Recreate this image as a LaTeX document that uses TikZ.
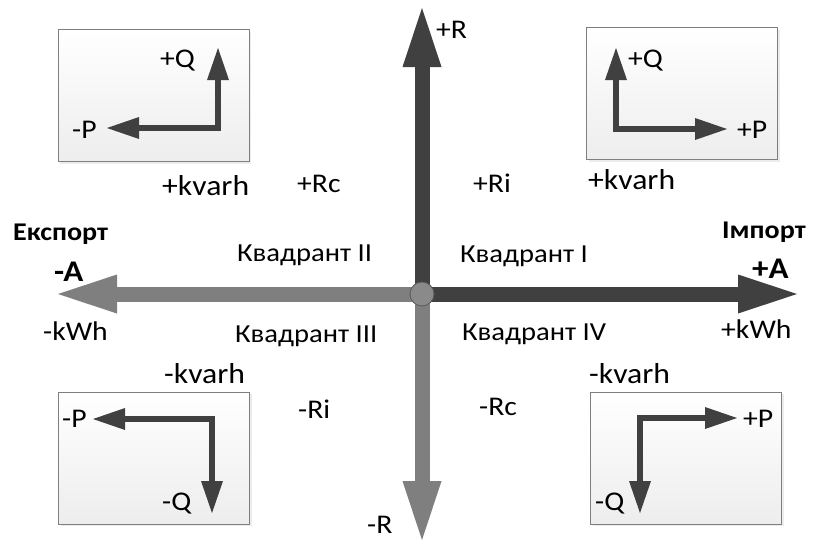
\documentclass[tikz,border=0pt]{standalone}
\usepackage{fontspec}
\setmainfont{Carlito}[FakeStretch=1.1]
\usetikzlibrary{arrows.meta,shadows}
\definecolor{dk}{HTML}{404040}
\definecolor{lt}{HTML}{7F7F7F}
\definecolor{rim}{HTML}{5A5A5A}
\definecolor{dot}{HTML}{8A8A8A}
\begin{document}
\begin{tikzpicture}[x=1pt,y=-1pt,
  lbl/.style={anchor=base west, inner sep=0pt, font=\fontsize{27}{31}\selectfont},
  klbl/.style={anchor=base west, inner sep=0pt, font=\fontsize{28.8}{32}\selectfont},
  qlbl/.style={anchor=base west, inner sep=0pt, font=\fontsize{26}{30}\selectfont},
  blbl/.style={anchor=base west, inner sep=0pt, font=\bfseries\fontsize{25.5}{29}\selectfont},
  alb/.style={anchor=base west, inner sep=0pt, font=\bfseries\fontsize{30}{34}\selectfont},
  panel/.style={draw=lt, line width=1pt, top color=white, bottom color=black!7,
    minimum width=191pt, minimum height=132pt, inner sep=0pt,
    drop shadow={opacity=0.15, shadow xshift=2pt, shadow yshift=-2pt}},
  bigarrow/.style={line width=15pt, -{Triangle[length=59pt,width=39pt,line width=0pt]}},
  smallarrow/.style={draw=dk, line width=6pt, line join=miter,
    {Triangle[length=32pt,width=22pt,line width=0pt]}-{Triangle[length=32pt,width=22pt,line width=0pt]}}
]
\useasboundingbox (0,0) rectangle (814,539);

% panels
\node[panel] (p1) at (153.5,95.5) {};
\node[panel] (p2) at (682,93.5) {};
\node[panel] (p3) at (154,458) {};
\node[panel] (p4) at (686,458) {};

% main axes
\coordinate (tu) at (422,8);
\coordinate (td) at (422,540);
\coordinate (tr) at (797,294);
\coordinate (tl) at (58,294);
\node[circle, minimum size=24pt, inner sep=0pt] (c) at (422,294) {};
\draw[bigarrow, draw=lt, fill=lt] (c.center) -- (tl);
\draw[bigarrow, draw=lt, fill=lt] (c.center) -- (td);
\draw[bigarrow, draw=dk, fill=dk] (c.center) -- (tr);
\draw[bigarrow, draw=dk, fill=dk] (c.center) -- (tu);
\node[circle, minimum size=24pt, inner sep=0pt, fill=dot, draw=rim, line width=0.8pt] (cc) at (c.center) {};

% panel arrows
\coordinate (c1) at (218,128); \coordinate (u1) at (218,48); \coordinate (l1) at (107,128);
\coordinate (c2) at (616,129); \coordinate (u2) at (616,48); \coordinate (r2) at (727,129);
\coordinate (c3) at (212,419); \coordinate (l3) at (93,419); \coordinate (d3) at (212,513);
\coordinate (c4) at (640,418); \coordinate (r4) at (737,418); \coordinate (d4) at (640,513);
\draw[smallarrow] (l1) -- (c1) -- (u1);
\draw[smallarrow] (u2) -- (c2) -- (r2);
\draw[smallarrow] (l3) -- (c3) -- (d3);
\draw[smallarrow] (r4) -- (c4) -- (d4);

% panel labels
\node[lbl] (q1) at (160,67) {+Q};
\node[lbl] (pp1) at (72,138) {-P};
\node[lbl] (q2) at (628,67) {+Q};
\node[lbl] (pp2) at (737,138) {+P};
\node[lbl] (pp3) at (62,427) {-P};
\node[lbl] (q3) at (162,510) {-Q};
\node[lbl] (pp4) at (743,427) {+P};
\node[lbl] (q4) at (595,510) {-Q};

% axis labels
\node[lbl] (rp) at (436,38) {+R};
\node[lbl] (rm) at (367,533) {-R};
\node[blbl] (exp) at (13,240) {Експорт};
\node[alb] (am) at (54,281) {-A};
\node[lbl] (kwm) at (43,340) {-kWh};
\node[blbl] (imp) at (722,238) {Імпорт};
\node[alb] (ap) at (752,278) {+A};
\node[lbl] (kwp) at (721,338) {+kWh};

% quadrant labels
\node[klbl] (kv1) at (162,195) {+kvarh};
\node[lbl] (rc1) at (297,192) {+Rc};
\node[lbl] (ri1) at (473,192) {+Ri};
\node[klbl] (kv2) at (588,189) {+kvarh};
\node[qlbl] (q2l) at (237,261) {Квадрант II};
\node[qlbl] (q1l) at (460,262) {Квадрант I};
\node[qlbl] (q3l) at (235,342) {Квадрант III};
\node[qlbl] (q4l) at (462,340) {Квадрант IV};
\node[klbl] (kv3) at (164,383) {-kvarh};
\node[lbl] (ri2) at (298,418) {-Ri};
\node[lbl] (rc2) at (479,415) {-Rc};
\node[klbl] (kv4) at (589,383) {-kvarh};
\end{tikzpicture}
\end{document}
